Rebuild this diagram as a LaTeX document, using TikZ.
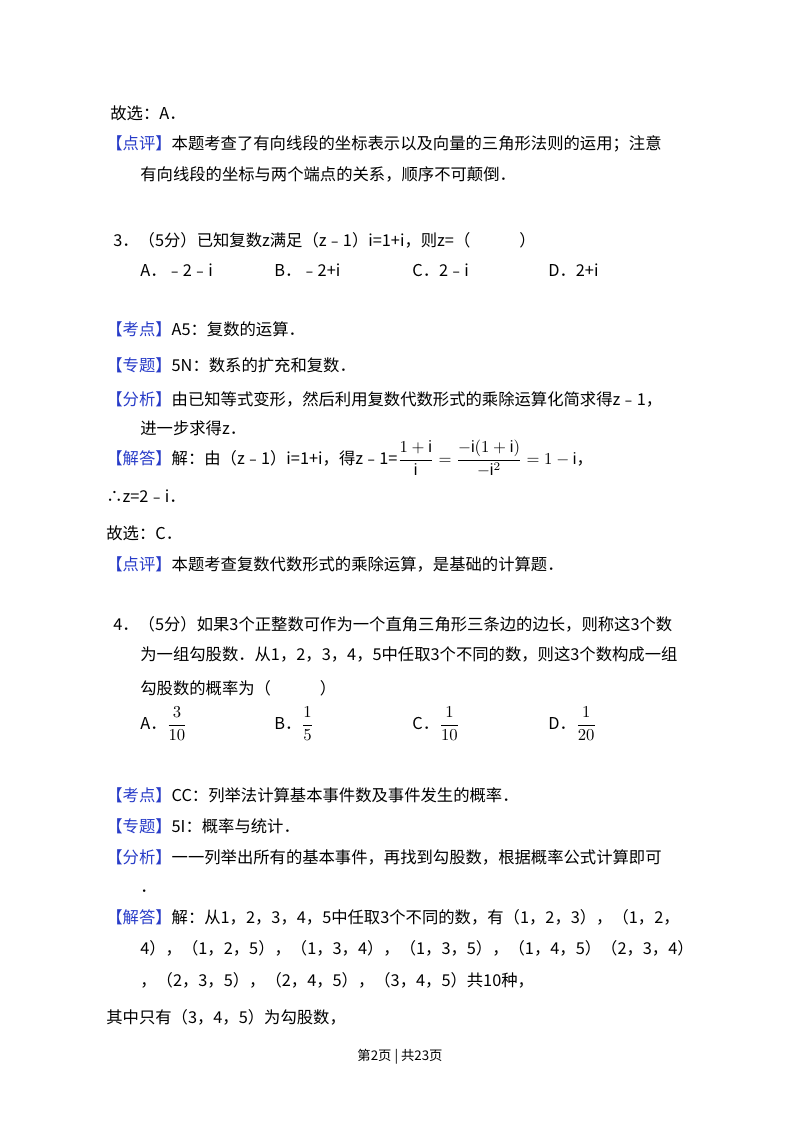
\documentclass[tikz,border=0pt]{standalone}
\usepackage{fontspec}
\setmainfont{Liberation Sans}
\newfontfamily\cjk{Noto Sans CJK SC}
\definecolor{tagblue}{RGB}{40,60,200}
\newcommand{\tg}[1]{{\color{tagblue}【#1】}}
\newcommand{\df}[2]{{\displaystyle\frac{#1}{#2}}}
\begin{document}
\begin{tikzpicture}[x=0.6pt,y=-0.6pt,
  t/.style={anchor=base west,inner sep=0pt,font=\cjk\fontsize{9.8pt}{11pt}\selectfont}]
\useasboundingbox[fill=white] (0,0) rectangle (800,1132);
\node[t] (l1) at (110,119) {故选：A．};
\node[t] (l2) at (106,149) {\tg{点评}本题考查了有向线段的坐标表示以及向量的三角形法则的运用；注意};
\node[t] (l3) at (140,180) {有向线段的坐标与两个端点的关系，顺序不可颠倒．};
\node[t] (l4) at (113,246) {3．（5分）已知复数z满足（z﹣1）i=1+i，则z=（\hspace{3em}）};
\node[t] (o1) at (140,276) {A．﹣2﹣i};
\node[t] (o2) at (274,276) {B．﹣2+i};
\node[t] (o3) at (412,276) {C．2﹣i};
\node[t] (o4) at (548,276) {D．2+i};
\node[t] (l5) at (106,335) {\tg{考点}A5：复数的运算．};
\node[t] (l6) at (106,371) {\tg{专题}5N：数系的扩充和复数．};
\node[t] (l7) at (106,405) {\tg{分析}由已知等式变形，然后利用复数代数形式的乘除运算化简求得z﹣1，};
\node[t] (l8) at (140,434) {进一步求得z．};
\node[t] (l9) at (106,464) {\tg{解答}解：由（z﹣1）i=1+i，得z﹣1=$\df{1+\mathrm{i}}{\mathrm{i}}=\df{-\mathrm{i}(1+\mathrm{i})}{-\mathrm{i}^2}=1-\mathrm{i}$，};
\node[t] (l10) at (106,502) {∴z=2﹣i．};
\node[t] (l11) at (106,539) {故选：C．};
\node[t] (l12) at (106,570) {\tg{点评}本题考查复数代数形式的乘除运算，是基础的计算题．};
\node[t] (l13) at (113,630) {4．（5分）如果3个正整数可作为一个直角三角形三条边的边长，则称这3个数};
\node[t] (l14) at (140,660) {为一组勾股数．从1，2，3，4，5中任取3个不同的数，则这3个数构成一组};
\node[t] (l15) at (140,694) {勾股数的概率为（\hspace{3em}）};
\node[t] (p1) at (140,729) {A．$\df{3}{10}$};
\node[t] (p2) at (274,729) {B．$\df{1}{5}$};
\node[t] (p3) at (412,729) {C．$\df{1}{10}$};
\node[t] (p4) at (548,729) {D．$\df{1}{20}$};
\node[t] (l16) at (106,801) {\tg{考点}CC：列举法计算基本事件数及事件发生的概率．};
\node[t] (l17) at (106,832) {\tg{专题}5I：概率与统计．};
\node[t] (l18) at (106,863) {\tg{分析}一一列举出所有的基本事件，再找到勾股数，根据概率公式计算即可};
\node[t] (l19) at (140,892) {．};
\node[t] (l20) at (106,923) {\tg{解答}解：从1，2，3，4，5中任取3个不同的数，有（1，2，3），（1，2，};
\node[t] (l21) at (140,954) {4），（1，2，5），（1，3，4），（1，3，5），（1，4，5）（2，3，4）};
\node[t] (l22) at (140,986) {，（2，3，5），（2，4，5），（3，4，5）共10种，};
\node[t] (l23) at (106,1023) {其中只有（3，4，5）为勾股数，};
\node[t,anchor=base,font=\cjk\fontsize{8pt}{9pt}\selectfont] (ft) at (400,1060) {第2页 | 共23页};
\end{tikzpicture}
\end{document}
